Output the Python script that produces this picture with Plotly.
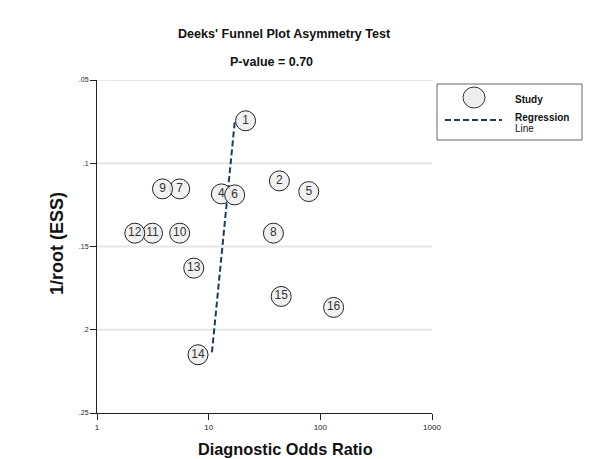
import plotly.graph_objects as go

# ---- data ----
study_labels = ["1", "2", "4", "5", "6", "7", "8", "9", "10", "11", "12", "13", "14", "15", "16"]
dor = [21.4, 43.0, 13.0, 78.7, 17.1, 5.5, 38.0, 3.86, 5.5, 3.14, 2.18, 7.35, 8.03, 44.6, 131.5]
inv_root_ess = [0.0745, 0.1106, 0.1184, 0.117, 0.119, 0.1154, 0.142, 0.1154, 0.142, 0.142, 0.142, 0.163, 0.215, 0.180, 0.1866]
reg_x = [17.1, 10.7]
reg_y = [0.0755, 0.2136]
x_ticks = [1, 10, 100, 1000]
x_tick_text = ["1", "10", "100", "1000"]
y_ticks = [0.05, 0.10, 0.15, 0.20, 0.25]
y_tick_text = [".05", ".1", ".15", ".2", ".25"]

W, H = 597, 459
L, R, T, B = 97, 432, 80, 413
FONT = "Liberation Sans, Arial, sans-serif"

def px(x):
    return (x - L) / (R - L)

def py(y):
    return (B - y) / (B - T)

fig = go.Figure()

# regression line
fig.add_trace(go.Scatter(
    x=reg_x, y=reg_y, mode="lines",
    line=dict(color="#1d3c5c", width=2, dash="6px,3px"),
    showlegend=False, hoverinfo="skip"))

# study points
fig.add_trace(go.Scatter(
    x=dor, y=inv_root_ess, mode="markers+text",
    text=study_labels, textposition="middle center",
    textfont=dict(family=FONT, size=12, color="#333333"),
    marker=dict(size=20, color="rgba(238,238,238,0.85)", line=dict(color="#222222", width=1)),
    showlegend=False))

# horizontal gridlines (light)
for yv in y_ticks[:-1]:
    fig.add_shape(type="line", xref="x", yref="y", x0=1, x1=1000, y0=yv, y1=yv,
                  line=dict(color="#e3e8e8", width=2), layer="below")

fig.update_xaxes(type="log", range=[0, 3], tickvals=x_ticks, ticktext=x_tick_text,
                 showgrid=False, zeroline=False, showline=True, linecolor="#222222", linewidth=1,
                 ticks="outside", ticklen=6, tickcolor="#222222",
                 tickfont=dict(family=FONT, size=8, color="#222222"))
fig.update_yaxes(range=[0.25, 0.05], tickvals=y_ticks, ticktext=y_tick_text,
                 showgrid=False, zeroline=False, showline=True, linecolor="#222222", linewidth=1,
                 ticks="outside", ticklen=6, tickcolor="#222222",
                 tickfont=dict(family=FONT, size=7, color="#222222"))

def label(x, y, text, size, xanchor="center", angle=0):
    return dict(x=px(x), y=py(y), xref="paper", yref="paper", text=text, textangle=angle,
                xanchor=xanchor, yanchor="middle", showarrow=False,
                font=dict(family=FONT, size=size, color="#111111"))

ann = [
    label(284, 34, "<b>Deeks' Funnel Plot Asymmetry Test</b>", 12.6),
    label(271, 62, "<b>P-value = 0.70</b>", 12.5),
    label(285, 449, "<b>Diagnostic Odds Ratio</b>", 16.3),
    label(57, 244, "<b>1/root (ESS)</b>", 18, angle=-90),
    label(513, 99, "<b>Study</b>", 10, xanchor="left"),
    label(513, 117, "<b>Regression</b>", 10, xanchor="left"),
    label(513, 128, "Line", 10, xanchor="left"),
]

shapes = [
    dict(type="rect", xref="paper", yref="paper", x0=px(437), x1=px(582), y0=py(84), y1=py(140),
         line=dict(color="#666666", width=1), fillcolor="white", layer="below"),
    dict(type="circle", xref="paper", yref="paper", x0=px(463), x1=px(485), y0=py(87), y1=py(108),
         line=dict(color="#333333", width=1), fillcolor="#eeeeee"),
    dict(type="line", xref="paper", yref="paper", x0=px(445), x1=px(502), y0=py(120), y1=py(120),
         line=dict(color="#1d3c5c", width=2, dash="6px,3px")),
]
for s in shapes:
    fig.add_shape(**s)

fig.update_layout(width=W, height=H, margin=dict(l=L, r=W - R, t=T, b=H - B),
                  paper_bgcolor="white", plot_bgcolor="white",
                  annotations=ann, showlegend=False)

fig.write_html("out.html")
